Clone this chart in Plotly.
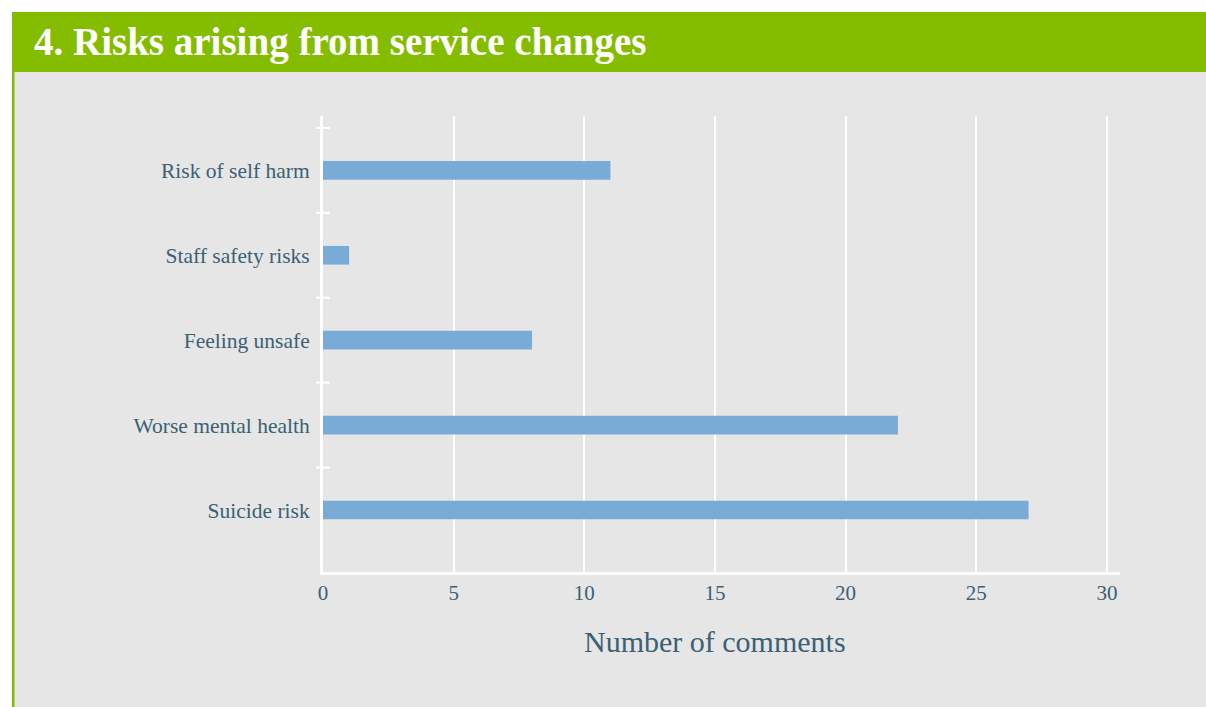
import plotly.graph_objects as go

# Data: comments per risk theme (bottom to top)
categories = ["Suicide risk", "Worse mental health", "Feeling unsafe",
              "Staff safety risks", "Risk of self harm"]
comments = [27, 22, 8, 1, 11]
x_ticks = [0, 5, 10, 15, 20, 25, 30]

TITLE = "4. Risks arising from service changes"
X_TITLE = "Number of comments"

# Canvas and plot-area geometry (pixels)
W, H = 1206, 707
L, R, T, B = 323, 86, 116, 135
PW, PH = W - L - R, H - T - B

GREEN = "#84bd00"
PANEL = "#e6e6e6"
BAR = "#78acd6"
TEXT = "#3a6174"
LABEL_FONT = "Liberation Serif"


def px(x):
    return (x - L) / PW


def py(y):
    return (H - B - y) / PH


ypos = list(range(len(categories)))

fig = go.Figure(
    go.Bar(
        x=comments,
        y=ypos,
        orientation="h",
        width=0.22,
        marker=dict(color=BAR, line_width=0),
        hoverinfo="skip",
    )
)

shapes = [
    # grey panel
    dict(type="rect", xref="paper", yref="paper", layer="below",
         x0=px(14), x1=px(W + 2), y0=py(72), y1=py(H + 2),
         fillcolor=PANEL, line_width=0),
    # green header band
    dict(type="rect", xref="paper", yref="paper", layer="below",
         x0=px(12), x1=px(W + 2), y0=py(12), y1=py(72),
         fillcolor=GREEN, line_width=0),
    # green left edge of panel
    dict(type="rect", xref="paper", yref="paper", layer="below",
         x0=px(12), x1=px(14.5), y0=py(72), y1=py(H + 2),
         fillcolor=GREEN, line_width=0),
]

# small white tick marks at category boundaries, crossing the y axis line
for i in range(len(categories)):
    shapes.append(dict(type="line", xref="paper", yref="y", layer="above",
                       xsizemode="pixel", xanchor=0, x0=-7, x1=7,
                       y0=i + 0.5, y1=i + 0.5,
                       line=dict(color="white", width=2)))

fig.update_layout(
    width=W, height=H,
    margin=dict(l=L, r=R, t=T, b=B, pad=0),
    paper_bgcolor="white",
    plot_bgcolor="rgba(0,0,0,0)",
    showlegend=False,
    shapes=shapes,
    font=dict(family=LABEL_FONT, color=TEXT),
    annotations=[
        dict(text=TITLE, xref="paper", yref="paper", x=px(32), y=py(42),
             xanchor="left", yanchor="middle", showarrow=False,
             font=dict(family="Liberation Serif", size=39, color="white",
                       weight="bold")),
        dict(text=X_TITLE, xref="x", yref="paper", x=15, y=py(641),
             xanchor="center", yanchor="middle", showarrow=False,
             font=dict(family=LABEL_FONT, size=30, color=TEXT)),
    ],
)

fig.update_xaxes(
    range=[0, 30.5],
    tickvals=x_ticks,
    ticktext=[str(v) for v in x_ticks],
    showgrid=True, gridcolor="white", gridwidth=2,
    zeroline=False,
    showline=True, linecolor="white", linewidth=3,
    ticks="", ticklen=0,
    tickfont=dict(family=LABEL_FONT, size=21, color=TEXT),
    fixedrange=True,
)

fig.update_yaxes(
    range=[-0.73, 4.64],
    tickvals=ypos,
    ticktext=categories,
    showgrid=False, zeroline=False,
    showline=True, linecolor="white", linewidth=3,
    ticks="outside", ticklen=6, tickcolor="rgba(0,0,0,0)",
    tickfont=dict(family=LABEL_FONT, size=21.5, color=TEXT),
    fixedrange=True,
)

fig.write_html("out.html")
